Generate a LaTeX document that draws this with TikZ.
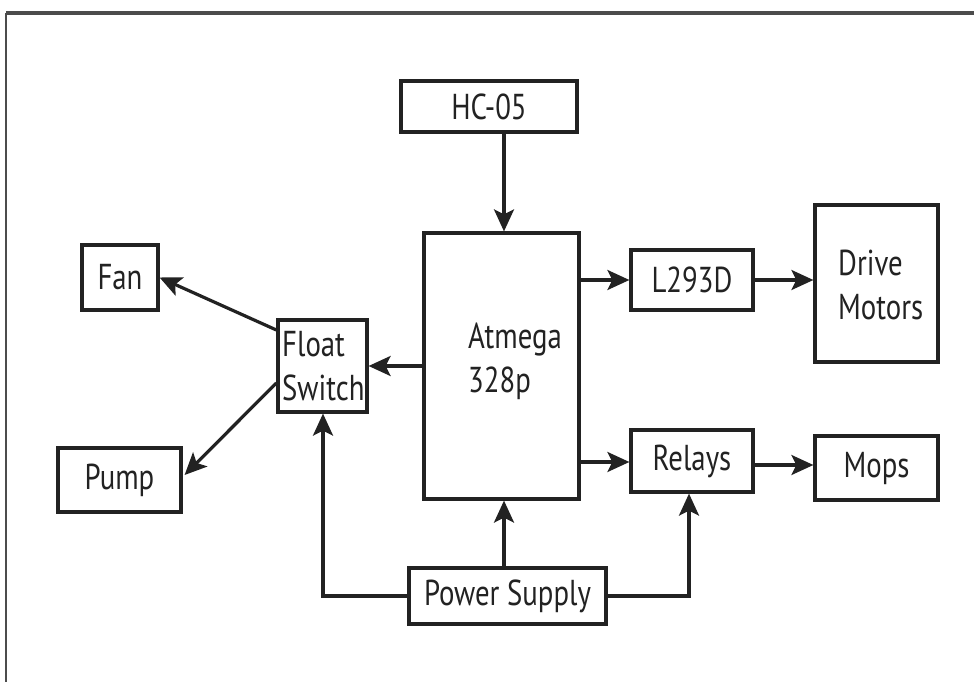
\documentclass[tikz,border=0pt]{standalone}
\usepackage{fontspec}
\setmainfont{PT Sans}[FakeStretch=0.8]
\usetikzlibrary{arrows.meta}
\definecolor{ink}{HTML}{222222}
\tikzset{
  box/.style={draw=ink, line width=3.2pt, inner sep=0pt, text=ink, font=\fontsize{36}{44}\selectfont},
  txt/.style={inner sep=0pt, text=ink, align=left, font=\fontsize{36}{44}\selectfont},
  conn/.style={draw=ink, line width=3.2pt, -{Stealth[length=22pt,width=20pt,inset=5pt]}},
}
\begin{document}
\begin{tikzpicture}[x=1pt,y=-1pt]
\useasboundingbox (0,0) rectangle (974,682);
\fill[white] (0,0) rectangle (974,682);
% frame
\coordinate (ftl) at (6,13);
\coordinate (ftr) at (974,13);
\coordinate (fbl) at (6,682);
\draw[line width=3.5pt, black!70] (ftl) -- (ftr);
\draw[line width=1.8pt, black!70] (ftl) -- (fbl);
% boxes
\node[box, minimum width=176pt, minimum height=51pt] (hc) at (489,106.5) {HC-05};
\node[box, minimum width=155pt, minimum height=266pt] (atm) at (501.5,366) {};
\node[box, minimum width=122pt, minimum height=60pt] (l293) at (692,280) {L293D};
\node[box, minimum width=123pt, minimum height=157pt] (drive) at (876.5,283.5) {};
\node[box, minimum width=122pt, minimum height=62pt] (relays) at (692,461) {Relays\hspace{12pt}};
\node[box, minimum width=123pt, minimum height=64pt] (mops) at (876.5,468) {Mops\hspace{8pt}};
\node[box, minimum width=89pt, minimum height=92pt] (float) at (322.5,366) {};
\node[box, minimum width=76pt, minimum height=65pt] (fan) at (120,277.5) {Fan};
\node[box, minimum width=123pt, minimum height=64pt] (pump) at (119.5,480) {Pump\hspace{14pt}};
\node[box, minimum width=197pt, minimum height=56pt] (power) at (507.5,596) {Power Supply};
% multi-line texts
\node[txt, anchor=west] (atmtxt) at (468,361.5) {Atmega\\328p};
\node[txt, anchor=west] (floattxt) at (282,366.5) {Float\\Switch};
\node[txt, anchor=west] (drivetxt) at (838,285) {Drive\\Motors};
% connectors
\draw[conn] (hc.south -| 504,0) -- (atm.north -| 504,0);
\draw[conn] (atm.east |- 0,280) -- (l293.west);
\draw[conn] (l293.east) -- (drive.west |- l293.east);
\draw[conn] (atm.east |- 0,462) -- (relays.west |- 0,462);
\draw[conn] (relays.east |- 0,465) -- (mops.west |- 0,465);
\draw[conn] (atm.west |- float.east) -- (float.east);
\draw[conn] ([yshift=36pt]float.west) -- (fan.east);
\draw[conn] ([yshift=-17pt]float.west) -- ([shift={(2pt,5pt)}]pump.east);
\draw[conn] (power.north -| 504,0) -- (atm.south -| 504,0);
\draw[conn] (power.west) -| (323,0 |- float.south);
\draw[conn] (power.east) -| (689,0 |- relays.south);
\end{tikzpicture}
\end{document}
